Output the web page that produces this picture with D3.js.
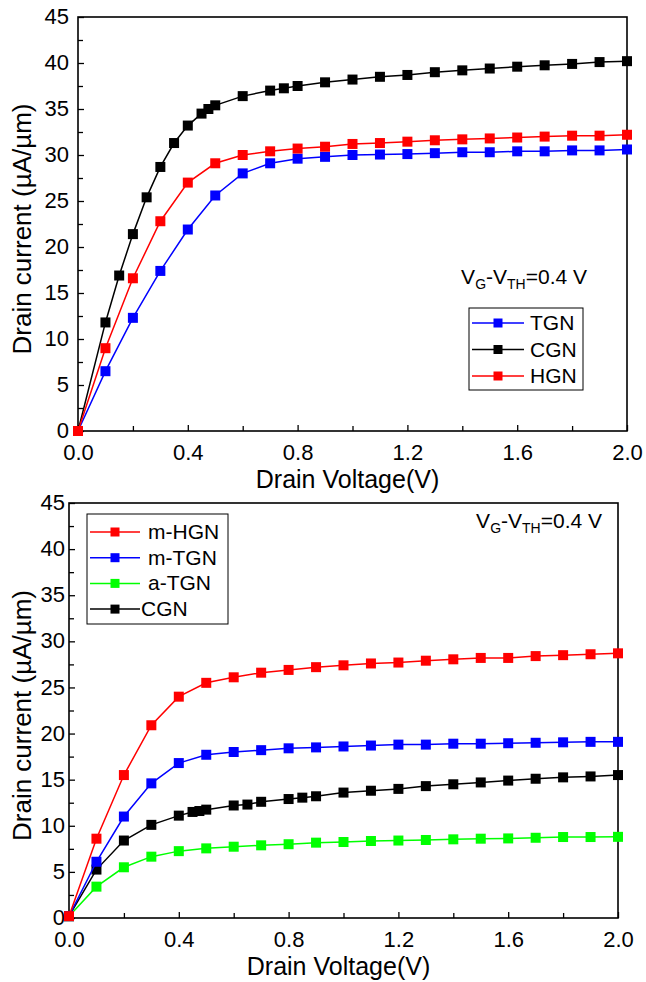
<!DOCTYPE html>
<html>
<head>
<meta charset="utf-8">
<script src="https://cdn.jsdelivr.net/npm/d3@7"></script>
<style>
  body { margin: 0; background: #fff; }
  text { font-family: "Liberation Sans", Arial, sans-serif; fill: #000; }
</style>
</head>
<body>
<svg class="chart" width="646" height="982"></svg>
<script>
/* Top panel data */
var vTop = [0, 0.1, 0.2, 0.3, 0.4, 0.5, 0.6, 0.7, 0.8, 0.9, 1.0, 1.1, 1.2, 1.3, 1.4, 1.5, 1.6, 1.7, 1.8, 1.9, 2.0];
var tgnTop = [0, 6.5, 12.3, 17.4, 21.9, 25.6, 28.0, 29.1, 29.6, 29.8, 30.0, 30.05, 30.1, 30.2, 30.3, 30.3, 30.4, 30.4, 30.5, 30.5, 30.6];
var hgnTop = [0, 9.0, 16.6, 22.8, 27.0, 29.1, 30.0, 30.4, 30.7, 30.9, 31.2, 31.3, 31.45, 31.6, 31.7, 31.8, 31.9, 32.0, 32.1, 32.1, 32.2];
var vCgnTop = [0, 0.1, 0.15, 0.2, 0.25, 0.3, 0.35, 0.4, 0.45, 0.475, 0.5, 0.6, 0.7, 0.75, 0.8, 0.9, 1.0, 1.1, 1.2, 1.3, 1.4, 1.5, 1.6, 1.7, 1.8, 1.9, 2.0];
var cgnTop = [0, 11.8, 16.9, 21.4, 25.4, 28.7, 31.3, 33.2, 34.5, 35.0, 35.4, 36.4, 37.0, 37.25, 37.5, 37.9, 38.2, 38.5, 38.7, 39.0, 39.2, 39.4, 39.6, 39.75, 39.9, 40.1, 40.2];

/* Bottom panel data */
var vBot = [0, 0.1, 0.2, 0.3, 0.4, 0.5, 0.6, 0.7, 0.8, 0.9, 1.0, 1.1, 1.2, 1.3, 1.4, 1.5, 1.6, 1.7, 1.8, 1.9, 2.0];
var mhgnBot = [0.2, 8.6, 15.5, 20.9, 24.0, 25.5, 26.1, 26.6, 26.9, 27.2, 27.4, 27.6, 27.7, 27.9, 28.05, 28.2, 28.2, 28.4, 28.5, 28.6, 28.7];
var mtgnBot = [0.2, 6.1, 11.0, 14.6, 16.8, 17.7, 18.0, 18.2, 18.4, 18.5, 18.6, 18.7, 18.8, 18.8, 18.9, 18.9, 18.95, 19.0, 19.05, 19.1, 19.1];
var atgnBot = [0.2, 3.4, 5.5, 6.65, 7.25, 7.55, 7.73, 7.88, 8.0, 8.17, 8.24, 8.35, 8.4, 8.46, 8.53, 8.6, 8.63, 8.7, 8.78, 8.78, 8.8];
var vCgnBot = [0, 0.1, 0.2, 0.3, 0.4, 0.45, 0.475, 0.5, 0.6, 0.65, 0.7, 0.8, 0.85, 0.9, 1.0, 1.1, 1.2, 1.3, 1.4, 1.5, 1.6, 1.7, 1.8, 1.9, 2.0];
var cgnBot = [0.2, 5.25, 8.4, 10.1, 11.1, 11.5, 11.6, 11.75, 12.2, 12.3, 12.6, 12.9, 13.05, 13.2, 13.6, 13.8, 14.0, 14.3, 14.5, 14.7, 14.9, 15.1, 15.25, 15.35, 15.5];

/* Ticks */
var yMajor = [0, 5, 10, 15, 20, 25, 30, 35, 40, 45];
var yMinor = [2.5, 7.5, 12.5, 17.5, 22.5, 27.5, 32.5, 37.5, 42.5];
var xMajor = [0, 0.4, 0.8, 1.2, 1.6, 2.0];
var xMinor = [0.2, 0.6, 1.0, 1.4, 1.8];

var svg = d3.select('.chart');

function zip(xs, ys) {
  return xs.map(function (x, i) { return { x: x, y: ys[i] }; });
}

function drawPanel(p) {
  var xScale = d3.scaleLinear().domain([0, 2]).range([p.left, p.right]);
  var yScale = d3.scaleLinear().domain([0, 45]).range([p.bottom, p.top]);
  var g = svg.append('g');

  /* minor ticks */
  g.append('g')
    .attr('transform', 'translate(0,' + p.bottom + ')')
    .call(d3.axisBottom(xScale).tickValues(xMinor).tickSizeInner(-5).tickSizeOuter(0).tickFormat(''))
    .call(function (a) { a.select('.domain').remove(); });
  g.append('g')
    .attr('transform', 'translate(' + p.left + ',0)')
    .call(d3.axisLeft(yScale).tickValues(yMinor).tickSizeInner(-5).tickSizeOuter(0).tickFormat(''))
    .call(function (a) { a.select('.domain').remove(); });

  /* major ticks */
  var xAxis = g.append('g')
    .attr('transform', 'translate(0,' + p.bottom + ')')
    .call(d3.axisBottom(xScale).tickValues(xMajor).tickSizeInner(-6).tickSizeOuter(0).tickPadding(9)
      .tickFormat(d3.format('.1f')));
  xAxis.select('.domain').remove();
  xAxis.selectAll('text').attr('font-size', 22).attr('dy', '0.92em');

  var yAxis = g.append('g')
    .attr('transform', 'translate(' + p.left + ',0)')
    .call(d3.axisLeft(yScale).tickValues(yMajor).tickSizeInner(-6).tickSizeOuter(0).tickPadding(p.yPad));
  yAxis.select('.domain').remove();
  yAxis.selectAll('text').attr('font-size', 22).attr('dy', '0.3em');

  g.selectAll('.tick line').attr('stroke', '#000').attr('stroke-width', 1.3);
  g.selectAll('.tick text').attr('font-family', '"Liberation Sans", Arial, sans-serif').attr('fill', '#000');

  /* frame */
  g.append('rect')
    .attr('x', p.left).attr('y', p.top)
    .attr('width', p.right - p.left).attr('height', p.bottom - p.top)
    .attr('fill', 'none').attr('stroke', '#000').attr('stroke-width', 1.6);

  /* axis titles */
  g.append('text')
    .attr('x', (p.left + p.right) / 2 - 5).attr('y', p.bottom + 57)
    .attr('text-anchor', 'middle').attr('font-size', 25)
    .text('Drain Voltage(V)');
  g.append('text')
    .attr('transform', 'translate(' + p.yTitleX + ',' + ((p.top + p.bottom) / 2 + 5) + ') rotate(-90)')
    .attr('text-anchor', 'middle').attr('font-size', 26)
    .text('Drain current (\u00b5A/\u00b5m)');

  /* series */
  var line = d3.line().x(function (d) { return xScale(d.x); }).y(function (d) { return yScale(d.y); });
  p.series.forEach(function (s) {
    var pts = zip(s.x, s.y);
    g.append('path').datum(pts)
      .attr('d', line).attr('fill', 'none')
      .attr('stroke', s.color).attr('stroke-width', 1.5);
    g.selectAll(null).data(pts).join('rect')
      .attr('x', function (d) { return xScale(d.x) - 5; })
      .attr('y', function (d) { return yScale(d.y) - 5; })
      .attr('width', 10).attr('height', 10)
      .attr('fill', s.color);
  });

  /* annotation */
  var ann = g.append('text')
    .attr('x', p.annX).attr('y', p.annY)
    .attr('text-anchor', 'end').attr('font-size', 21);
  ann.append('tspan').text('V');
  ann.append('tspan').attr('font-size', 14).attr('dy', 5).text('G');
  ann.append('tspan').attr('dy', -5).text('-V');
  ann.append('tspan').attr('font-size', 14).attr('dy', 5).text('TH');
  ann.append('tspan').attr('dy', -5).text('=0.4 V');

  /* legend */
  var L = p.legend;
  g.append('rect')
    .attr('x', L.x).attr('y', L.y).attr('width', L.w).attr('height', L.h)
    .attr('fill', '#fff').attr('stroke', '#000').attr('stroke-width', 1);
  L.order.forEach(function (idx, i) {
    var s = p.series[idx];
    var yy = L.y + L.first + i * L.step;
    g.append('line')
      .attr('x1', L.x + 3).attr('x2', L.x + 3 + L.lineW)
      .attr('y1', yy).attr('y2', yy)
      .attr('stroke', s.color).attr('stroke-width', 1.5);
    g.append('rect')
      .attr('x', L.x + 3 + L.lineW / 2 - 4.5).attr('y', yy - 4.5)
      .attr('width', 9).attr('height', 9).attr('fill', s.color);
    g.append('text')
      .attr('x', L.x + (s.textOff || L.textX)).attr('y', yy + 7)
      .attr('font-size', 21)
      .text(s.name);
  });
}

drawPanel({
  left: 78, right: 627, top: 17, bottom: 431, yPad: 9, yTitleX: 31,
  annX: 587, annY: 284,
  series: [
    { name: 'TGN', color: '#0000ff', x: vTop, y: tgnTop },
    { name: 'CGN', color: '#000000', x: vCgnTop, y: cgnTop },
    { name: 'HGN', color: '#ff0000', x: vTop, y: hgnTop }
  ],
  legend: { x: 469, y: 308, w: 114, h: 82, first: 15, step: 26.5, lineW: 52, textX: 61, order: [0, 1, 2] }
});

drawPanel({
  left: 69, right: 618, top: 503, bottom: 918, yPad: 4, yTitleX: 31,
  annX: 602, annY: 528,
  series: [
    { name: 'CGN', color: '#000000', x: vCgnBot, y: cgnBot, textOff: 54 },
    { name: 'a-TGN', color: '#00ff00', x: vBot, y: atgnBot },
    { name: 'm-TGN', color: '#0000ff', x: vBot, y: mtgnBot },
    { name: 'm-HGN', color: '#ff0000', x: vBot, y: mhgnBot }
  ],
  legend: { x: 87, y: 514, w: 141, h: 110, first: 18, step: 25.7, lineW: 50, textX: 61, order: [3, 2, 1, 0] }
});
</script>
</body>
</html>
